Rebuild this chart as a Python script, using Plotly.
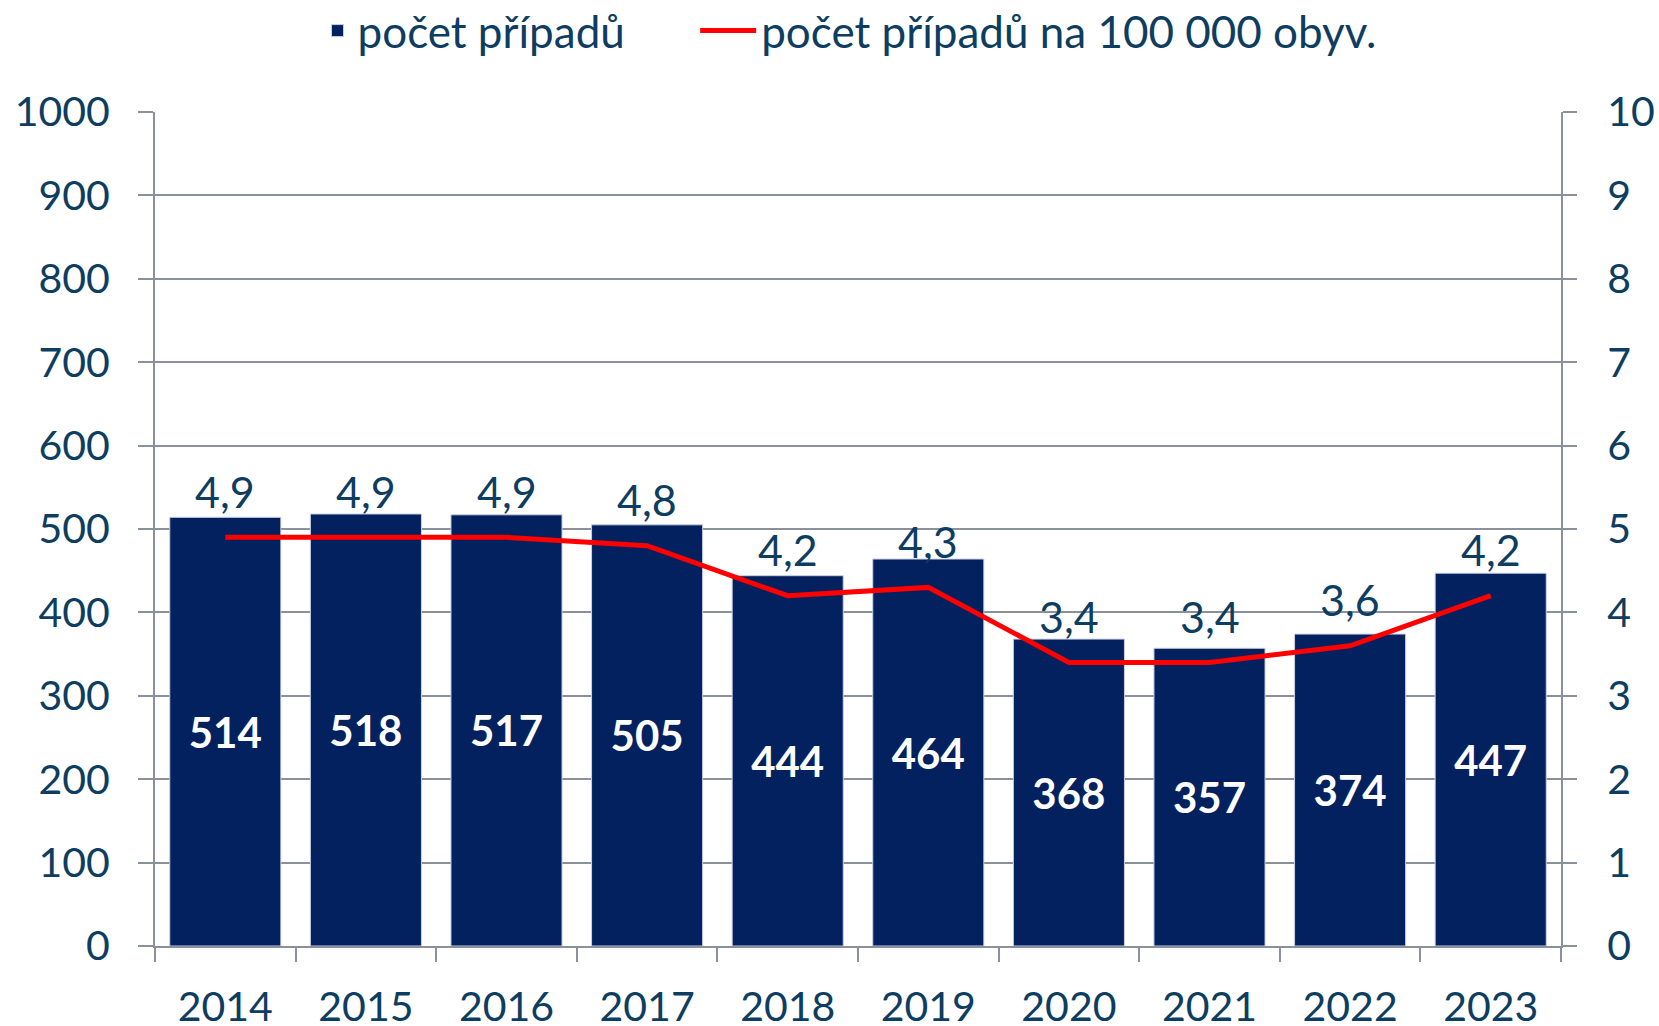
import plotly.graph_objects as go

years = ["2014", "2015", "2016", "2017", "2018", "2019", "2020", "2021", "2022", "2023"]
cases = [514, 518, 517, 505, 444, 464, 368, 357, 374, 447]
rate = [4.9, 4.9, 4.9, 4.8, 4.2, 4.3, 3.4, 3.4, 3.6, 4.2]

TXT = "#0d3d60"
BAR = "#03215f"
GRID = "#8a919d"
FONT = "Lato"

fig = go.Figure()
fig.add_trace(go.Bar(
    x=years, y=cases, name="počet případů", legend="legend",
    marker=dict(color=BAR, line=dict(color="#c9d0e0", width=1)),
    text=[str(v) for v in cases], textposition="inside", insidetextanchor="middle",
    textfont=dict(family=FONT, size=42, color="white", weight="bold"),
    textangle=0,
))
fig.add_trace(go.Scatter(
    x=years, y=rate, name="počet případů na 100 000 obyv.", yaxis="y2", legend="legend2",
    mode="lines", line=dict(color="#ff0000", width=5),
))
for i, r in enumerate(rate):
    fig.add_annotation(x=i, y=r, xref="x", yref="y2", text=f"{r:.1f}".replace(".", ","),
                       showarrow=False, yshift=46, yanchor="middle",
                       font=dict(family=FONT, size=43, color=TXT))

leg = dict(orientation="h", xanchor="left", yref="container", y=0.9698, yanchor="middle",
           font=dict(family=FONT, size=44, color=TXT), bgcolor="rgba(0,0,0,0)")

fig.update_layout(
    width=1659, height=1026,
    margin=dict(l=155, r=98, t=112, b=80),
    paper_bgcolor="white", plot_bgcolor="white",
    bargap=0.21,
    font=dict(family=FONT, size=41, color=TXT),
    showlegend=True,
    legend=dict(leg, x=0.1156),
    legend2=dict(leg, x=0.3842, itemwidth=56),
    xaxis=dict(type="category", range=[-0.5, 9.5], autorange=False,
               showline=True, linecolor=GRID, linewidth=2,
               ticks="outside", ticklen=14, tickwidth=2, tickcolor=GRID,
               tickson="boundaries", ticklabelstandoff=24, showgrid=False, tickangle=0,
               automargin=False,
               tickfont=dict(family=FONT, size=41, color=TXT)),
    yaxis=dict(range=[0, 1000], dtick=100, showgrid=True, gridcolor=GRID, gridwidth=2,
               showline=True, linecolor=GRID, linewidth=2, zeroline=False,
               ticks="outside", ticklen=15, tickwidth=2, tickcolor=GRID, automargin=False,
               ticklabelstandoff=20, tickfont=dict(family=FONT, size=41, color=TXT)),
    yaxis2=dict(range=[0, 10], dtick=1, overlaying="y", side="right", showgrid=False,
                showline=True, linecolor=GRID, linewidth=2, zeroline=False,
                ticks="outside", ticklen=14, tickwidth=2, tickcolor=GRID, automargin=False,
                ticklabelstandoff=22, tickfont=dict(family=FONT, size=41, color=TXT)),
)

fig.write_html("out.html", config={"displayModeBar": False},
               post_script="document.body.style.margin='0';document.body.style.overflow='hidden';")
